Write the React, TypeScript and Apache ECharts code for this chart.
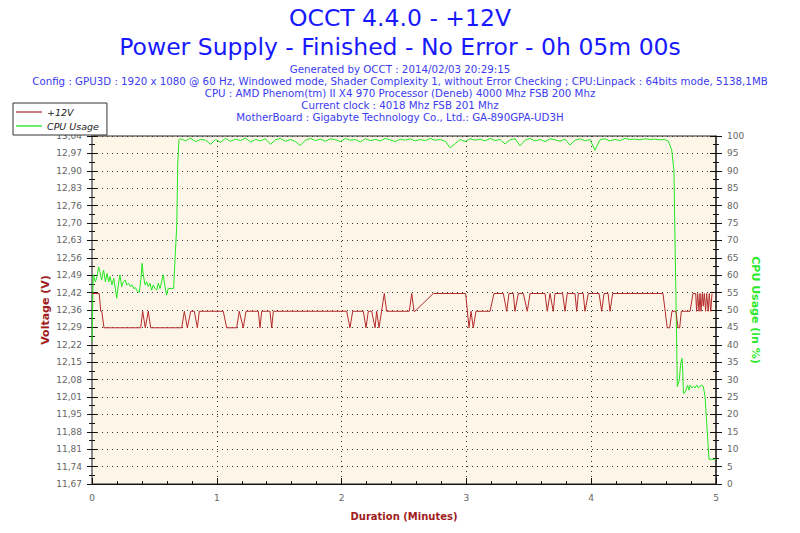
import React, { useEffect, useRef } from "react";
import * as echarts from "echarts";

const FONT = "'DejaVu Sans', Verdana, sans-serif";

const titleLines = ["OCCT 4.4.0 - +12V", "Power Supply - Finished - No Error - 0h 05m 00s"];
const infoLines = [
  "Generated by OCCT : 2014/02/03 20:29:15",
  "Config : GPU3D : 1920 x 1080 @ 60 Hz, Windowed mode, Shader Complexity 1, without Error Checking ; CPU:Linpack : 64bits mode, 5138,1MB",
  "CPU : AMD Phenom(tm) II X4 970 Processor (Deneb) 4000 Mhz FSB 200 Mhz",
  "Current clock : 4018 Mhz FSB 201 Mhz",
  "MotherBoard : Gigabyte Technology Co., Ltd.: GA-890GPA-UD3H",
];

const voltTickLabels = [
  "11,67", "11,74", "11,81", "11,88", "11,95", "12,01", "12,08", "12,15", "12,22", "12,29", "12,36",
  "12,42", "12,49", "12,56", "12,63", "12,70", "12,76", "12,83", "12,90", "12,97", "13,04",
];
const VOLT_MIN = 11.67;
const VOLT_MAX = 13.04;
const VOLT_STEP = 0.0685;

const minuteTicks = ["0", "1", "2", "3", "4", "5"];

// +12V readings: [minutes, volts]
const voltage12V: [number, number][] = [
  [0, 12.42], [0.058, 12.42], [0.07, 12.35], [0.078, 12.35], [0.096, 12.285], [0.39, 12.285],
  [0.406, 12.35], [0.427, 12.285], [0.451, 12.35], [0.47, 12.285], [0.719, 12.285], [0.74, 12.35],
  [0.764, 12.285], [0.791, 12.35], [0.82, 12.35], [0.844, 12.285], [0.86, 12.35], [1.052, 12.35],
  [1.079, 12.285], [1.159, 12.285], [1.18, 12.35], [1.212, 12.285], [1.234, 12.35], [1.333, 12.35],
  [1.346, 12.285], [1.36, 12.35], [1.426, 12.35], [1.44, 12.285], [1.453, 12.35], [2.041, 12.35],
  [2.067, 12.285], [2.089, 12.35], [2.174, 12.35], [2.196, 12.285], [2.214, 12.35], [2.241, 12.35],
  [2.268, 12.285], [2.281, 12.35], [2.3, 12.285], [2.342, 12.42], [2.361, 12.35], [2.542, 12.35],
  [2.562, 12.42], [2.58, 12.35], [2.588, 12.35], [2.735, 12.42], [2.994, 12.42], [3.021, 12.285],
  [3.037, 12.35], [3.055, 12.285], [3.077, 12.35], [3.189, 12.35], [3.221, 12.42], [3.296, 12.42],
  [3.323, 12.35], [3.341, 12.42], [3.376, 12.42], [3.389, 12.35], [3.416, 12.42], [3.456, 12.42],
  [3.488, 12.35], [3.51, 12.42], [3.63, 12.42], [3.648, 12.35], [3.67, 12.42], [3.696, 12.35],
  [3.71, 12.42], [3.771, 12.42], [3.79, 12.35], [3.808, 12.42], [3.87, 12.42], [3.884, 12.35],
  [3.897, 12.42], [3.936, 12.42], [3.95, 12.35], [3.977, 12.42], [4.063, 12.42], [4.084, 12.35],
  [4.103, 12.42], [4.135, 12.42], [4.151, 12.35], [4.172, 12.42], [4.575, 12.42], [4.593, 12.35],
  [4.609, 12.285], [4.629, 12.285], [4.647, 12.35], [4.679, 12.35], [4.696, 12.285], [4.709, 12.285],
  [4.722, 12.35], [4.792, 12.35], [4.816, 12.42], [4.837, 12.42], [4.845, 12.35], [4.853, 12.42],
  [4.864, 12.35], [4.872, 12.42], [4.88, 12.35], [4.89, 12.42], [4.898, 12.37], [4.906, 12.42],
  [4.917, 12.35], [4.925, 12.42], [4.938, 12.35], [4.946, 12.42], [4.958, 12.35], [4.968, 12.42],
];

// CPU usage before the load step: [minutes, %]
const cpuStart: [number, number][] = [
  [0, 41], [0.01, 60.1], [0.027, 58.1], [0.04, 59.6], [0.053, 62.4], [0.064, 61.0], [0.077, 58.6],
  [0.093, 61.5], [0.107, 58.1], [0.12, 60.5], [0.134, 58.1], [0.144, 59.6], [0.16, 57.2], [0.174, 59.1],
  [0.187, 56.2], [0.198, 53.4], [0.211, 57.2], [0.224, 60.1], [0.238, 56.7], [0.251, 58.1], [0.267, 58.6],
  [0.278, 57.2], [0.294, 57.7], [0.307, 56.7], [0.321, 57.2], [0.334, 56.2], [0.347, 56.4], [0.366, 55.3],
  [0.379, 55.1], [0.393, 59.1], [0.401, 63.4], [0.411, 60.1], [0.425, 57.2], [0.438, 58.1], [0.451, 56.7],
  [0.465, 57.7], [0.478, 55.7], [0.491, 57.2], [0.505, 56.2], [0.518, 55.7], [0.531, 57.7], [0.545, 56.2],
  [0.561, 58.6], [0.571, 60.1], [0.585, 56.7], [0.598, 54.3], [0.611, 56.2], [0.625, 56.2], [0.654, 56.2],
  [0.667, 66], [0.679, 74], [0.687, 92], [0.697, 99.0],
];

// CPU usage under full load, sampled every 0.04 min from 0.71 min
const PLATEAU_START = 0.71;
const PLATEAU_STEP = 0.04;
const cpuPlateau = [
  99.2, 98.6, 99.4, 98.4, 99.0, 98.8, 97.6, 99.0, 98.2, 99.3,
  98.5, 99.1, 98.7, 99.4, 98.3, 99.0, 98.6, 99.2, 97.6, 98.9,
  99.3, 98.5, 99.0, 98.4, 97.3, 98.8, 99.3, 98.7, 99.1, 98.5,
  99.2, 98.9, 98.4, 99.3, 98.8, 99.0, 98.3, 99.2, 98.7, 99.0,
  98.6, 99.3, 98.9, 98.4, 99.1, 98.8, 99.2, 98.6, 99.0, 98.7,
  99.3, 98.8, 99.0, 98.5, 96.6, 97.8, 99.0, 98.4, 99.2, 98.8,
  99.1, 98.6, 99.3, 98.7, 99.0, 97.7, 98.9, 99.2, 97.2, 98.8,
  99.3, 98.6, 99.0, 98.4, 99.2, 98.9, 98.5, 99.1, 97.4, 98.8,
  99.2, 98.6, 99.0, 95.9, 98.9, 99.2, 98.6, 99.0, 98.7, 99.3,
  99.0, 99.1, 98.9, 99.2, 99.0, 99.1, 98.9, 99.0,
];

// CPU usage after the load ends: [minutes, %]
const cpuEnd: [number, number][] = [
  [4.6, 98.8], [4.618, 98.5], [4.645, 96], [4.663, 90], [4.671, 71], [4.679, 54], [4.69, 28],
  [4.706, 29.9], [4.717, 34.7], [4.728, 36.1], [4.733, 32.8], [4.739, 26.1], [4.747, 26.1], [4.76, 27],
  [4.772, 28.4], [4.783, 27], [4.792, 28.4], [4.808, 27.6], [4.818, 28.1], [4.832, 27.6], [4.845, 28.4],
  [4.858, 27.6], [4.872, 28.1], [4.885, 28.4], [4.898, 28.1], [4.912, 25.1], [4.926, 17.4], [4.936, 11.7],
  [4.944, 7.1], [5.0, 7.1],
];

export default function App() {
  const ref = useRef<HTMLDivElement>(null);

  useEffect(() => {
    document.body.style.margin = "0";
    if (!ref.current) return;
    const chart = echarts.init(ref.current, null, { renderer: "svg" });

    const cpuData: [number, number][] = [
      ...cpuStart,
      ...cpuPlateau.map((v, i) => [+(PLATEAU_START + i * PLATEAU_STEP).toFixed(3), v] as [number, number]),
      ...cpuEnd,
    ];

    const infoTitles = infoLines.map((t, i) => ({
      text: t,
      left: "center",
      top: 59 + i * 12,
      textStyle: { fontFamily: FONT, fontSize: 10.25, fontWeight: "normal" as const, color: "#3b3bf0" },
    }));

    const voltLabel = (v: number) => {
      const idx = Math.round((v - VOLT_MIN) / VOLT_STEP);
      return voltTickLabels[idx] ?? "";
    };

    const axisLabelStyle = { fontFamily: FONT, fontSize: 9, color: "#666" };

    chart.setOption({
      animation: false,
      backgroundColor: "#ffffff",
      title: [
        {
          text: titleLines[0], left: "center", top: 1,
          textStyle: { fontFamily: FONT, fontSize: 23.5, fontWeight: "normal", color: "#1818ff" },
        },
        {
          text: titleLines[1], left: "center", top: 30,
          textStyle: { fontFamily: FONT, fontSize: 23.5, fontWeight: "normal", color: "#1818ff" },
        },
        ...infoTitles,
      ],
      legend: {
        orient: "vertical",
        left: 13,
        top: 103,
        padding: [3, 8, 3, 3],
        itemGap: 2,
        itemWidth: 26,
        itemHeight: 2,
        itemTextGap: 8,
        icon: "rect",
        backgroundColor: "#ffffff",
        borderColor: "#333",
        borderWidth: 1,
        borderRadius: 0,
        textStyle: { fontFamily: FONT, fontSize: 9.5, fontStyle: "italic", color: "#222", lineHeight: 12 },
        data: [
          { name: "+12V", itemStyle: { color: "#cc7c7c" } },
          { name: "CPU Usage", itemStyle: { color: "#6cee6c" } },
        ],
      },
      grid: {
        left: 92,
        right: 84,
        top: 136,
        bottom: 49,
        show: true,
        backgroundColor: "#fdf6e8",
        borderColor: "#222",
        borderWidth: 1,
      },
      xAxis: {
        type: "value",
        min: 0,
        max: 5,
        interval: 1,
        name: "Duration (Minutes)",
        nameLocation: "middle",
        nameGap: 27,
        nameTextStyle: { fontFamily: FONT, fontSize: 10, fontWeight: "bold", color: "#a01c1c" },
        axisLine: { show: true, lineStyle: { color: "#111", width: 1 } },
        axisTick: { show: true, inside: true, length: 6, lineStyle: { color: "#111" } },
        minorTick: { show: true, splitNumber: 5, length: 3, lineStyle: { color: "#111" } },
        axisLabel: { ...axisLabelStyle, margin: 9, formatter: (v: number) => minuteTicks[Math.round(v)] ?? "" },
        splitLine: { show: true, lineStyle: { color: "#333", type: [1, 4], width: 1 } },
      },
      yAxis: [
        {
          type: "value",
          position: "left",
          min: VOLT_MIN,
          max: VOLT_MAX,
          interval: VOLT_STEP,
          name: "Voltage (V)",
          nameLocation: "middle",
          nameGap: 41,
          nameMoveOverlap: false,
          nameRotate: 90,
          nameTextStyle: { fontFamily: FONT, fontSize: 11, fontWeight: "bold", color: "#a01c1c" },
          axisLine: { show: true, lineStyle: { color: "#888", width: 2 } },
          axisTick: { show: true, length: 5, lineStyle: { color: "#111" } },
          minorTick: { show: true, splitNumber: 2, length: 3, lineStyle: { color: "#111" } },
          axisLabel: { ...axisLabelStyle, margin: 10, formatter: voltLabel },
          splitLine: { show: true, lineStyle: { color: "#333", type: [1, 4], width: 1 } },
        },
        {
          type: "value",
          position: "right",
          min: 0,
          max: 100,
          interval: 5,
          name: "CPU Usage (in %)",
          nameLocation: "middle",
          nameGap: 34,
          nameMoveOverlap: false,
          nameRotate: -90,
          nameTextStyle: { fontFamily: FONT, fontSize: 11, fontWeight: "bold", color: "#2ee82e" },
          axisLine: { show: true, lineStyle: { color: "#333", width: 1.5 } },
          axisTick: { show: true, length: 6, lineStyle: { color: "#111" } },
          minorTick: { show: true, splitNumber: 2, length: 3, lineStyle: { color: "#111" } },
          axisLabel: { ...axisLabelStyle, margin: 11 },
          splitLine: { show: false },
        },
        {
          type: "value",
          position: "left",
          min: VOLT_MIN,
          max: VOLT_MAX,
          interval: VOLT_STEP,
          axisLine: { show: false },
          axisTick: { show: true, inside: true, length: 5, lineStyle: { color: "#111" } },
          minorTick: { show: true, splitNumber: 2, length: 3, lineStyle: { color: "#111" } },
          axisLabel: { show: false },
          splitLine: { show: false },
        },
        {
          type: "value",
          position: "right",
          min: 0,
          max: 100,
          interval: 5,
          axisLine: { show: false },
          axisTick: { show: true, inside: true, length: 6, lineStyle: { color: "#111" } },
          minorTick: { show: true, splitNumber: 2, length: 3, lineStyle: { color: "#111" } },
          axisLabel: { show: false },
          splitLine: { show: false },
        },
      ],
      series: [
        {
          name: "+12V",
          type: "line",
          yAxisIndex: 0,
          data: voltage12V,
          symbol: "none",
          color: "#b42a2a",
          lineStyle: { color: "#b42a2a", width: 1 },
          z: 3,
        },
        {
          name: "CPU Usage",
          type: "line",
          yAxisIndex: 1,
          data: cpuData,
          symbol: "none",
          color: "#22e622",
          lineStyle: { color: "#22e622", width: 1 },
          z: 2,
        },
      ],
    });

    return () => chart.dispose();
  }, []);

  return <div ref={ref} style={{ width: 800, height: 533 }} />;
}
